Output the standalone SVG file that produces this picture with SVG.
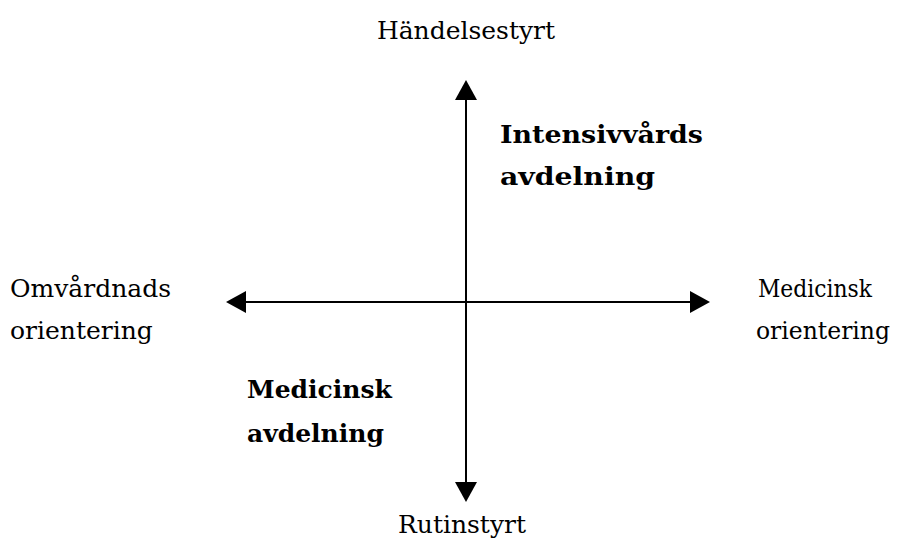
<svg xmlns="http://www.w3.org/2000/svg" width="902" height="559" viewBox="0 0 902 559">
  <style>
    .lbl { font-family: "DejaVu Serif", "Liberation Serif", serif; font-size: 25px; fill: #000; }
    .bold { font-weight: bold; }
    .axis { stroke: #000; stroke-width: 2; fill: none; }
  </style>
  <defs>
    <!-- filled triangular arrowhead shared by both ends of each axis -->
    <marker id="head" viewBox="0 0 20 22" refX="0" refY="11" markerWidth="20" markerHeight="22" markerUnits="userSpaceOnUse" orient="auto-start-reverse">
      <path d="M0,0 L20,11 L0,22 Z" fill="#000"/>
    </marker>
  </defs>
  <rect width="902" height="559" fill="#fff"/>

  <g id="connectors">
    <line class="axis" x1="466" y1="100" x2="466" y2="482" marker-start="url(#head)" marker-end="url(#head)"/>
    <line class="axis" x1="246" y1="302" x2="690" y2="302" marker-start="url(#head)" marker-end="url(#head)"/>
  </g>

  <g id="top-label"><text class="lbl" x="466" y="39" text-anchor="middle">Händelsestyrt</text></g>
  <g id="bottom-label"><text class="lbl" x="462" y="533" text-anchor="middle">Rutinstyrt</text></g>
  <g id="left-label">
    <text class="lbl" x="10" y="297">Omvårdnads</text>
    <text class="lbl" x="10" y="339">orientering</text>
  </g>
  <g id="right-label">
    <text class="lbl" x="758" y="297" textLength="114" lengthAdjust="spacingAndGlyphs">Medicinsk</text>
    <text class="lbl" x="756" y="339" textLength="134" lengthAdjust="spacingAndGlyphs">orientering</text>
  </g>
  <g id="icu">
    <text class="lbl bold" x="500" y="143" textLength="203" lengthAdjust="spacingAndGlyphs">Intensivvårds</text>
    <text class="lbl bold" x="500" y="185" textLength="155" lengthAdjust="spacingAndGlyphs">avdelning</text>
  </g>
  <g id="medical-ward">
    <text class="lbl bold" x="247" y="398">Medicinsk</text>
    <text class="lbl bold" x="247" y="442">avdelning</text>
  </g>
</svg>
